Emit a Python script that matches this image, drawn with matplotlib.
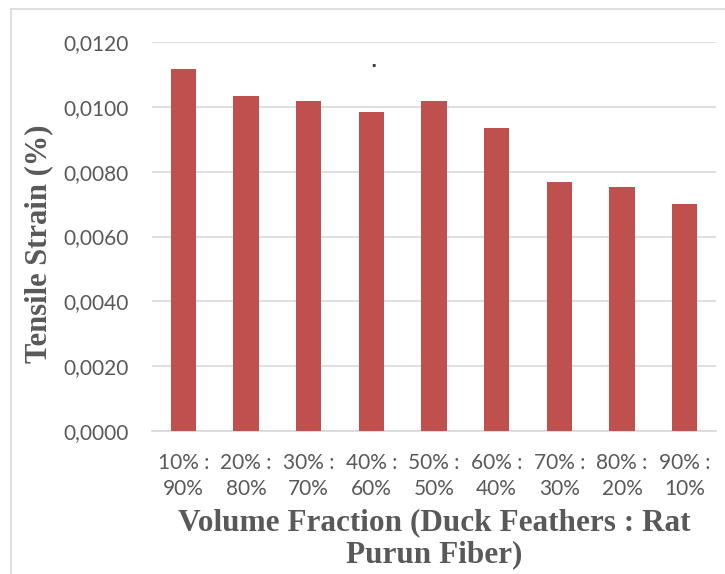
import matplotlib.pyplot as plt
from matplotlib.patches import Rectangle
from matplotlib.ticker import FuncFormatter

# Tensile strain for each duck feather : rat purun fiber ratio
duck = ['10%', '20%', '30%', '40%', '50%', '60%', '70%', '80%', '90%']
purun = ['90%', '80%', '70%', '60%', '50%', '40%', '30%', '20%', '10%']
strain = [0.01117, 0.01034, 0.01019, 0.00985, 0.01019, 0.00935, 0.00769, 0.00753, 0.00701]

labels = [f'{d} :\n{p}' for d, p in zip(duck, purun)]
grey = '#595959'

fig = plt.figure(figsize=(7.25, 5.74), dpi=100)
ax = fig.add_axes([152 / 725, 1 - 431 / 574, 564 / 725, 389 / 574])

x = range(len(strain))
ax.bar(x, strain, width=0.4, color='#C0504D', zorder=3)

ax.set_xlim(-0.5, len(strain) - 0.5)
ax.set_ylim(0, 0.012)
ax.set_yticks([0, 0.002, 0.004, 0.006, 0.008, 0.010, 0.012])
ax.yaxis.set_major_formatter(FuncFormatter(lambda v, p: f'{v:.4f}'.replace('.', ',')))
ax.set_xticks(list(x))
ax.set_xticklabels(labels, linespacing=1.35)

ax.grid(axis='y', color='#D9D9D9', lw=1.2, zorder=0)
for s in ['top', 'right', 'left']:
    ax.spines[s].set_visible(False)
ax.spines['bottom'].set_color('#D9D9D9')
ax.spines['bottom'].set_linewidth(1.2)
ax.tick_params(length=0, colors=grey, labelsize=15)
ax.tick_params(axis='y', pad=17)
ax.tick_params(axis='x', pad=16)
for t in ax.get_xticklabels() + ax.get_yticklabels():
    t.set_fontfamily('Lato')

fig.text(39 / 725, 1 - 244 / 574, 'Tensile Strain (%)', rotation=90,
         ha='center', va='center', family='Liberation Serif',
         fontweight='bold', fontsize=22, color=grey)
fig.text(434 / 725, 1 - 539 / 574, 'Volume Fraction (Duck Feathers : Rat\nPurun Fiber)',
         ha='center', va='center', family='Liberation Serif',
         fontweight='bold', fontsize=22.5, color=grey, linespacing=1.13)
fig.text(373 / 725, 1 - 62 / 574, '.', ha='center', va='center',
         fontsize=12, color='#404040', fontweight='bold')

# chart frame
fig.patches.append(Rectangle((11 / 725, -0.01), 2, 1 - 9 / 574 + 0.01,
                             transform=fig.transFigure, fill=False,
                             edgecolor='#D9D9D9', lw=1.2))

fig.savefig('out.png', dpi=100)
